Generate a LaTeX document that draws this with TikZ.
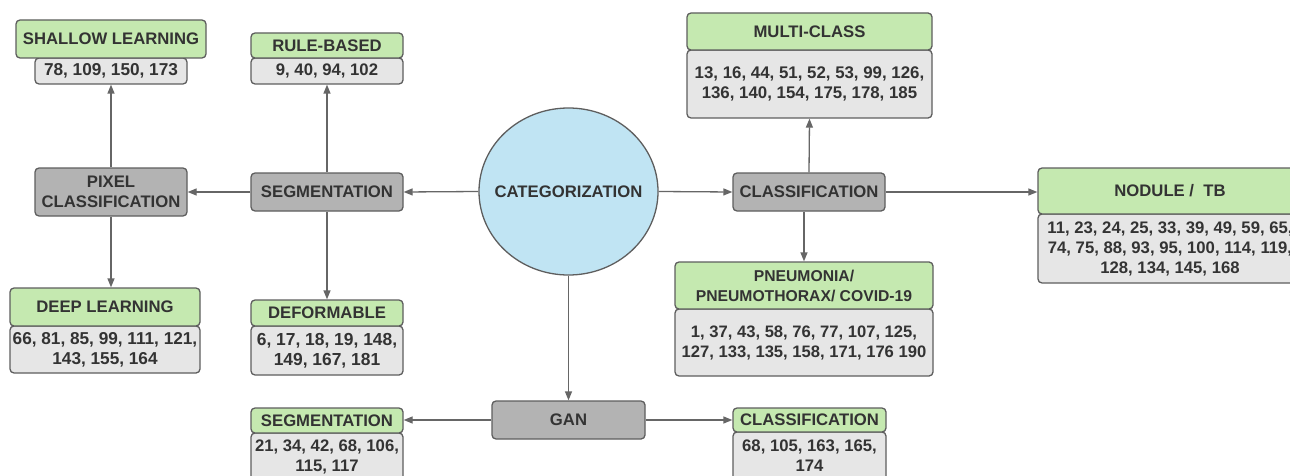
\documentclass[tikz,border=0pt]{standalone}
\usepackage{fontspec}
\setmainfont{Liberation Sans}
\usetikzlibrary{arrows.meta,shapes.geometric}
\definecolor{grn}{HTML}{C5E9B0}
\definecolor{lgray}{HTML}{E6E6E6}
\definecolor{dgray}{HTML}{B3B3B3}
\definecolor{catblue}{HTML}{C0E4F3}
\definecolor{bord}{HTML}{5E5E5E}
\definecolor{txt}{HTML}{333333}
\definecolor{arrc}{HTML}{666666}
\begin{document}
\begin{tikzpicture}[x=1pt,y=-1pt,
  font=\fontsize{16.7}{20}\selectfont\bfseries, text=txt,
  box/.style={draw=bord, line width=1.3pt, rounded corners=4pt, align=center, inner sep=1pt},
  hdr/.style={box, fill=grn},
  num/.style={box, fill=lgray},
  dark/.style={box, fill=dgray},
  fs/.style={font=\fontsize{#1}{20}\selectfont\bfseries},
  arr/.style={draw=arrc, line width=1.3pt, -{Triangle[length=9pt,width=7pt]}}]
\clip (0,0) rectangle (1290,476);
\fill[white] (0,0) rectangle (1290,476);
% top left
\node[num, fs=17.2, minimum width=152pt, minimum height=26pt] (slN) at (111,71) {78, 109, 150, 173};
\node[hdr, minimum width=190pt, minimum height=38pt] (slH) at (111,39) {SHALLOW LEARNING};
\node[num, minimum width=152pt, minimum height=26pt] (rbN) at (327,71) {9, 40, 94, 102};
\node[hdr, minimum width=152pt, minimum height=25pt] (rbH) at (327,45.5) {RULE-BASED};
% middle row
\node[dark, minimum width=152pt, minimum height=48pt] (pix) at (111,192) {PIXEL\\CLASSIFICATION};
\node[dark, minimum width=152pt, minimum height=38pt] (seg) at (327,192) {SEGMENTATION};
\node[draw=bord, line width=1.3pt, fill=catblue, ellipse, minimum width=179pt, minimum height=167pt, inner sep=0pt] (cat) at (568.5,191.5) {\makebox[0pt]{CATEGORIZATION}};
\node[dark, minimum width=152pt, minimum height=38pt] (cls) at (809,192) {CLASSIFICATION};
% multi-class
\node[num, fs=16.85, minimum width=245pt, minimum height=68pt] (mcN) at (809.5,84) {13, 16, 44, 51, 52, 53, 99, 126,\\136, 140, 154, 175, 178, 185};
\node[hdr, minimum width=245pt, minimum height=37pt] (mcH) at (809.5,31.5) {MULTI-CLASS};
% nodule
\node[num, minimum width=264pt, minimum height=69pt] (ndN) at (1170,248.5) {11, 23, 24, 25, 33, 39, 49, 59, 65,\\74, 75, 88, 93, 95, 100, 114, 119,\\128, 134, 145, 168};
\node[hdr, minimum width=264pt, minimum height=46pt] (ndH) at (1170,191) {NODULE /\ \ TB};
% pneumonia
\node[num, fs=16.6, minimum width=258pt, minimum height=67pt] (pnN) at (804,342.5) {1, 37, 43, 58, 76, 77, 107, 125,\\127, 133, 135, 158, 171, 176 190};
\node[hdr, fs=15.7, minimum width=258pt, minimum height=47pt] (pnH) at (804,285.5) {PNEUMONIA/\\PNEUMOTHORAX/ COVID-19};
% lower left
\node[num, fs=17.2, minimum width=190pt, minimum height=47pt] (dlN) at (105,349.5) {66, 81, 85, 99, 111, 121,\\143, 155, 164};
\node[hdr, minimum width=190pt, minimum height=38pt] (dlH) at (105,307) {DEEP LEARNING};
\node[num, fs=17.4, minimum width=152pt, minimum height=49pt] (dfN) at (327,350.5) {6, 17, 18, 19, 148,\\149, 167, 181};
\node[hdr, minimum width=152pt, minimum height=26pt] (dfH) at (327,313) {DEFORMABLE};
% GAN row
\node[dark, minimum width=153pt, minimum height=38pt] (gan) at (568.5,420) {GAN};
\node[num, minimum width=152pt, minimum height=48pt] (sgN) at (327,457) {21, 34, 42, 68, 106,\\115, 117};
\node[hdr, minimum width=152pt, minimum height=25pt] (sgH) at (327,420.5) {SEGMENTATION};
\node[num, minimum width=153pt, minimum height=48pt] (clN) at (809.5,456) {68, 105, 163, 165,\\174};
\node[hdr, minimum width=153pt, minimum height=24pt] (clH) at (809.5,420) {CLASSIFICATION};
% connectors
\draw[arr] (pix.north) -- (slN.south);
\draw[arr] (seg.north) -- (rbN.south);
\draw[arr] (seg.west) -- (pix.east);
\draw[arr] (cat.west) -- (seg.east);
\draw[arr] (cat.east) -- (cls.west);
\draw[arr] (cls.north) -- (mcN.south);
\draw[arr] (cls.east) -- (ndH.west |- cls.east);
\draw[arr] (pnH.north |- cls.south) -- (pnH.north);
\draw[arr] (pix.south) -- (pix.south |- dlH.north);
\draw[arr] (seg.south) -- (dfH.north);
\draw[arr] (cat.south) -- (cat.south |- gan.north);
\draw[arr] (gan.west) -- (sgH.east |- gan.west);
\draw[arr] (gan.east) -- (clH.west |- gan.east);
\end{tikzpicture}
\end{document}
